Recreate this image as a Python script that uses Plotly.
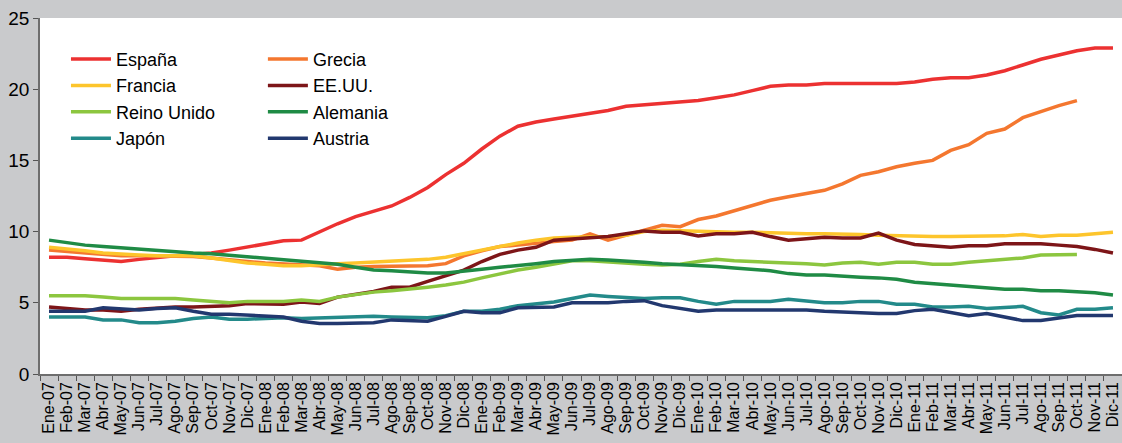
import plotly.graph_objects as go

meses = ["Ene", "Feb", "Mar", "Abr", "May", "Jun", "Jul", "Ago", "Sep", "Oct", "Nov", "Dic"]
anios = ["07", "08", "09", "10", "11"]
categorias = [f"{m}-{a}" for a in anios for m in meses]

espana = [8.2, 8.2, 8.1, 8.0, 7.9, 8.05, 8.2, 8.3, 8.4, 8.5, 8.7, 8.9,
          9.15, 9.35, 9.4, 10.0, 10.55, 11.05, 11.4, 11.8, 12.4, 13.1, 14.0, 14.8,
          15.8, 16.7, 17.4, 17.7, 17.9, 18.1, 18.3, 18.5, 18.8, 18.9, 19.0, 19.1,
          19.2, 19.4, 19.6, 19.9, 20.2, 20.3, 20.3, 20.4, 20.4, 20.4, 20.4, 20.4,
          20.5, 20.7, 20.8, 20.8, 21.0, 21.3, 21.7, 22.1, 22.4, 22.7, 22.9, 22.9]
grecia = [8.7, 8.6, 8.5, 8.4, 8.3, 8.3, 8.3, 8.3, 8.25, 8.15, 8.0, 7.9,
          7.8, 7.75, 7.7, 7.6, 7.35, 7.5, 7.55, 7.55, 7.6, 7.6, 7.75, 8.3,
          8.65, 8.95, 9.05, 9.2, 9.3, 9.4, 9.85, 9.4, 9.75, 10.05, 10.45, 10.35,
          10.85, 11.1, 11.45, 11.85, 12.2, 12.45, 12.65, 12.9, 13.35, 13.95, 14.2, 14.55,
          14.8, 15.0, 15.7, 16.1, 16.9, 17.2, 18.0, 18.45, 18.85, 19.2, None, None]
francia = [8.9, 8.8, 8.65, 8.5, 8.4, 8.35, 8.3, 8.3, 8.3, 8.15, 7.95, 7.8,
           7.7, 7.6, 7.6, 7.7, 7.75, 7.8, 7.85, 7.9, 7.95, 8.05, 8.2, 8.45,
           8.7, 9.0, 9.2, 9.4, 9.55, 9.6, 9.6, 9.65, 9.75, 10.0, 10.1, 10.05,
           10.0, 10.0, 9.95, 9.95, 9.9, 9.9, 9.85, 9.85, 9.85, 9.8, 9.75, 9.7,
           9.65, 9.65, 9.65, 9.65, 9.65, 9.7, 9.8, 9.65, 9.75, 9.75, 9.85, 9.95]
eeuu = [4.7, 4.6, 4.5, 4.5, 4.4, 4.55, 4.65, 4.7, 4.7, 4.75, 4.8, 4.95,
        4.95, 4.9, 5.05, 4.95, 5.4, 5.6, 5.8, 6.1, 6.1, 6.5, 6.9, 7.3,
        7.9, 8.4, 8.7, 8.9, 9.4, 9.5, 9.55, 9.65, 9.85, 10.05, 9.95, 9.95,
        9.7, 9.85, 9.85, 9.95, 9.65, 9.4, 9.5, 9.6, 9.55, 9.55, 9.9, 9.4,
        9.1, 9.0, 8.9, 9.0, 9.0, 9.15, 9.15, 9.15, 9.05, 8.95, 8.75, 8.5]
reino_unido = [5.5, 5.5, 5.5, 5.4, 5.3, 5.3, 5.3, 5.3, 5.2, 5.1, 5.0, 5.1,
               5.1, 5.1, 5.2, 5.1, 5.4, 5.6, 5.75, 5.85, 5.95, 6.1, 6.25, 6.45,
               6.75, 7.05, 7.3, 7.5, 7.75, 7.95, 7.95, 7.85, 7.8, 7.7, 7.65, 7.7,
               7.9, 8.05, 7.95, 7.9, 7.85, 7.85, 7.75, 7.65, 7.8, 7.85, 7.7, 7.85,
               7.85, 7.7, 7.7, 7.85, 7.95, 8.05, 8.15, 8.35, 8.35, 8.4, None, None]
alemania = [9.4, 9.2, 9.05, 8.95, 8.85, 8.75, 8.65, 8.55, 8.5, 8.45, 8.35, 8.25,
            8.1, 8.0, 7.9, 7.8, 7.7, 7.5, 7.3, 7.25, 7.15, 7.1, 7.1, 7.2,
            7.35, 7.5, 7.6, 7.75, 7.9, 7.95, 8.05, 8.0, 7.95, 7.85, 7.75, 7.7,
            7.65, 7.55, 7.45, 7.35, 7.25, 7.05, 6.95, 6.95, 6.85, 6.8, 6.75, 6.65,
            6.45, 6.35, 6.25, 6.15, 6.05, 5.95, 5.95, 5.85, 5.85, 5.8, 5.7, 5.55]
japon = [4.0, 4.0, 4.0, 3.8, 3.8, 3.6, 3.6, 3.7, 3.9, 4.0, 3.85, 3.85,
         3.9, 3.95, 3.9, 3.95, 3.95, 4.05, 4.05, 4.0, 3.95, 3.95, 4.1, 4.4,
         4.4, 4.55, 4.8, 4.95, 5.05, 5.3, 5.55, 5.45, 5.35, 5.3, 5.35, 5.35,
         5.1, 4.9, 5.1, 5.1, 5.1, 5.25, 5.1, 5.0, 5.0, 5.1, 5.1, 4.9,
         4.9, 4.7, 4.7, 4.75, 4.6, 4.7, 4.75, 4.3, 4.15, 4.55, 4.55, 4.65]
austria = [4.4, 4.4, 4.4, 4.65, 4.6, 4.5, 4.6, 4.65, 4.4, 4.2, 4.2, 4.15,
           4.1, 4.0, 3.7, 3.55, 3.55, 3.55, 3.6, 3.8, 3.75, 3.7, 4.05, 4.4,
           4.3, 4.3, 4.65, 4.7, 4.7, 5.0, 5.0, 5.0, 5.1, 5.15, 4.8, 4.6,
           4.4, 4.5, 4.5, 4.5, 4.5, 4.5, 4.5, 4.4, 4.35, 4.25, 4.25, 4.25,
           4.45, 4.55, 4.35, 4.1, 4.25, 4.0, 3.75, 3.75, 3.9, 4.1, 4.1, 4.1]

series = [
    ("España", espana, "#ec3131", "legend"),
    ("Grecia", grecia, "#f4772f", "legend2"),
    ("Francia", francia, "#fdc52c", "legend"),
    ("EE.UU.", eeuu, "#7d1518", "legend2"),
    ("Reino Unido", reino_unido, "#8cc63f", "legend"),
    ("Alemania", alemania, "#1f8b45", "legend2"),
    ("Japón", japon, "#238a8a", "legend"),
    ("Austria", austria, "#22386f", "legend2"),
]

fig = go.Figure()
for name, vals, color, leg in series:
    fig.add_trace(go.Scatter(
        x=categorias, y=vals, name=name, mode="lines",
        line=dict(color=color, width=3.5), legend=leg,
    ))

font_family = "Liberation Sans, Arial, sans-serif"
legend_common = dict(
    bgcolor="rgba(0,0,0,0)", borderwidth=0, orientation="v",
    font=dict(family=font_family, size=18, color="#000000"),
    xanchor="left", yanchor="top", tracegroupgap=0, itemwidth=40,
)

fig.update_layout(
    width=1122, height=443,
    margin=dict(l=40, r=0, t=18, b=69),
    paper_bgcolor="#c9cacc",
    plot_bgcolor="#ffffff",
    font=dict(family=font_family, color="#000000"),
    legend=dict(x=0.024, y=0.936, **legend_common),
    legend2=dict(x=0.206, y=0.936, **legend_common),
    showlegend=True,
)
fig.update_xaxes(
    type="category", range=[-0.5, 59.5], tickmode="linear", dtick=1, tick0=0,
    tickson="boundaries", ticks="outside", ticklen=5, tickcolor="#555555",
    showline=True, linecolor="#6e6e6e", linewidth=1.5, showgrid=False,
    tickangle=-90, tickfont=dict(family=font_family, size=16, color="#000000"),
)
fig.update_yaxes(
    range=[0, 25], tickmode="linear", dtick=5, tick0=0,
    ticks="outside", ticklen=5, tickcolor="#555555",
    showline=True, linecolor="#6e6e6e", linewidth=1.5, showgrid=False, zeroline=False,
    tickfont=dict(family=font_family, size=19, color="#000000"),
)

fig.write_html(
    "out.html",
    config={"displayModeBar": False},
    post_script="document.body.style.margin='0';document.body.style.overflow='hidden';",
)
